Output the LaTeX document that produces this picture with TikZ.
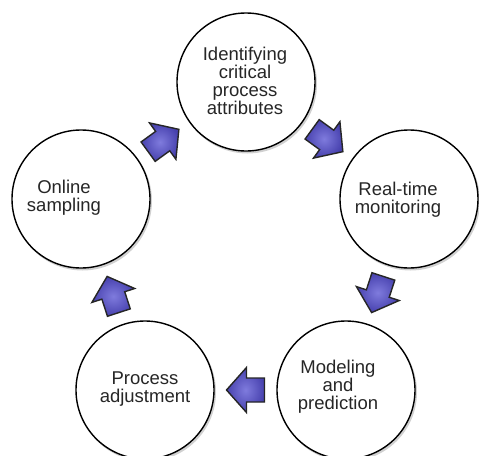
\documentclass[tikz,border=0pt]{standalone}
\usepackage{fontspec}
\setmainfont{Liberation Sans}
\usetikzlibrary{calc}
\definecolor{txt}{HTML}{262626}
\definecolor{arrowlight}{HTML}{7F7BDD}
\definecolor{arrowdark}{HTML}{4741AE}
\tikzset{
  stage/.style={circle, draw=black, line width=1.4pt, fill=white, minimum size=138pt, inner sep=0pt},
  stageshadow/.style={circle, fill=black!18, minimum size=139pt, inner sep=0pt},
  stagetext/.style={align=center, text=txt, inner sep=0pt, font=\fontsize{18.5}{17.8}\selectfont},
  barrow/.pic={
    \path[draw=black!85, line width=1.4pt, line join=miter,
          inner color=arrowlight, outer color=arrowdark, shading=radial]
      (19pt,0pt) -- (-1pt,22.5pt) -- (-1pt,12pt) -- (-19pt,12pt)
      -- (-19pt,-12pt) -- (-1pt,-12pt) -- (-1pt,-22.5pt) -- cycle;
  }
}
\begin{document}
\begin{tikzpicture}[x=1pt,y=-1pt]
\useasboundingbox (0,0) rectangle (479,455);
% shadows
\foreach \px/\py in {246/82,409/199,346/390,145/390,81/199}{
  \node[stageshadow] at (\px+1.5,\py+2) {};
}
% circles
\node[stage] (T)  at (246,82)  {};
\node[stage] (R)  at (409,199) {};
\node[stage] (BR) at (346,390) {};
\node[stage] (BL) at (145,390) {};
\node[stage] (L)  at (81,199)  {};
% texts
\node[stagetext] (tT)  at (245,81)  {Identifying\\critical\\process\\attributes};
\node[stagetext] (tR)  at (398,200) {Real-time\\monitoring};
\node[stagetext] (tBR) at (338,387) {Modeling\\and\\prediction};
\node[stagetext] (tBL) at (145,389) {Process\\adjustment};
\node[stagetext] (tL)  at (64,198)  {Online\\sampling};
% block arrows
\path ($(T)!0.5!(R)$)   pic[rotate=-36]  {barrow};
\path ($(R)!0.5!(BR)$)  pic[rotate=-108] {barrow};
\path ($(BR)!0.5!(BL)$) pic[rotate=180]  {barrow};
\path ($(BL)!0.5!(L)$)  pic[rotate=108]  {barrow};
\path ($(L)!0.5!(T)$)   pic[rotate=36]   {barrow};
\end{tikzpicture}
\end{document}
